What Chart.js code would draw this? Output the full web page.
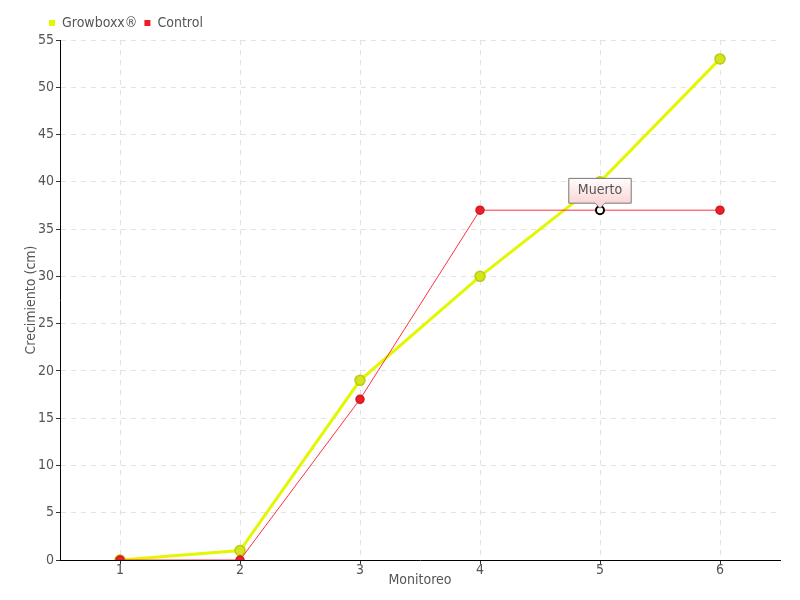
<!DOCTYPE html>
<html>
<head>
<meta charset="utf-8">
<script src="https://cdn.jsdelivr.net/npm/chart.js@4"></script>
<style>
	body { margin: 0; background: #fff; }
</style>
</head>
<body>
<canvas id="growthChart" width="800" height="600"></canvas>
<script>
"use-strict";

// Monitoring rounds and growth (cm) of each group
const monitoreos = ['1', '2', '3', '4', '5', '6'];
const growboxxValues = [0, 1, 19, 30, 40, 53];
const controlValues = [0, 0, 17, 37, 37, 37];
const deadIndex = 4;
const deadLabel = 'Muerto';
const yMin = 0;
const yMax = 55;
const yStep = 5;

const FONT = "'Liberation Sans Narrow', 'DejaVu Sans Condensed', sans-serif";
const TEXT_COLOR = '#555';
const CONTROL_LINE = '#ff3040';

const ctx = document.getElementById('growthChart').getContext('2d');

// tooltip background: white to pink
const tipGradient = ctx.createLinearGradient(0, 177, 0, 203);
tipGradient.addColorStop(0, '#ffffff');
tipGradient.addColorStop(1, '#fbd6d6');

// move the legend to the right, like the original
const legendShift = {
	id: 'legendShift',
	beforeDraw: (chart) => {
		chart.legend.left = 42;
	}
};

const chart = new Chart(ctx, {
	type: 'line',
	data: {
		labels: monitoreos,
		datasets: [{
			label: 'Growboxx®',
			data: growboxxValues,
			borderColor: '#e2f700',
			borderWidth: 3,
			backgroundColor: '#e2f700',
			pointBackgroundColor: '#d4e61a',
			pointBorderColor: '#b9cc12',
			pointBorderWidth: 1.5,
			pointRadius: 5,
			order: 1
		}, {
			label: 'Control',
			data: controlValues,
			borderColor: CONTROL_LINE,
			borderWidth: 1,
			backgroundColor: '#f01c28',
			segment: {
				borderColor: CONTROL_LINE
			},
			pointBackgroundColor: (c) => c.dataIndex === deadIndex ? '#ffffff' : '#e8202a',
			pointBorderColor: (c) => c.dataIndex === deadIndex ? '#000000' : '#d81820',
			pointBorderWidth: (c) => c.dataIndex === deadIndex ? 2 : 1.5,
			pointRadius: 4,
			order: 0
		}]
	},
	options: {
		responsive: false,
		animation: false,
		events: [],
		layout: {
			padding: { left: 0, right: 20, top: 9, bottom: 0 }
		},
		plugins: {
			legend: {
				position: 'top',
				align: 'start',
				labels: {
					boxWidth: 6,
					boxHeight: 6,
					padding: 7,
					color: TEXT_COLOR,
					font: { family: FONT, size: 14 },
					sort: (a, b) => a.datasetIndex - b.datasetIndex,
					generateLabels: (chart) => Chart.defaults.plugins.legend.labels.generateLabels(chart)
						.map(item => Object.assign(item, { lineWidth: 0 }))
				}
			},
			tooltip: {
				enabled: true,
				backgroundColor: tipGradient,
				borderColor: '#777',
				borderWidth: 1,
				cornerRadius: 0,
				caretSize: 5,
				caretPadding: 2,
				padding: { left: 9, right: 9, top: 4, bottom: 4 },
				displayColors: false,
				yAlign: 'bottom',
				xAlign: 'center',
				bodyColor: TEXT_COLOR,
				bodyFont: { family: FONT, size: 14 },
				callbacks: {
					title: () => [],
					label: () => deadLabel
				}
			}
		},
		scales: {
			x: {
				offset: true,
				title: {
					display: true,
					text: 'Monitoreo',
					color: TEXT_COLOR,
					font: { family: FONT, size: 14 },
					padding: { top: 0, bottom: 11 }
				},
				ticks: {
					color: TEXT_COLOR,
					font: { family: FONT, size: 14 },
					padding: -2
				},
				grid: {
					offset: false,
					color: '#e2e2e2',
					tickColor: '#333',
					tickLength: 4,
					tickBorderDash: []
				},
				border: { color: '#000', width: 1, dash: [5, 5] },
				afterFit: (scale) => { scale.height = 40; }
			},
			y: {
				min: yMin,
				max: yMax,
				title: {
					display: true,
					text: 'Crecimiento (cm)',
					color: TEXT_COLOR,
					font: { family: FONT, size: 14 },
					padding: { top: 23, bottom: 0 }
				},
				ticks: {
					stepSize: yStep,
					color: TEXT_COLOR,
					font: { family: FONT, size: 14 },
					padding: 2
				},
				grid: {
					color: '#e2e2e2',
					tickColor: '#333',
					tickLength: 4,
					tickBorderDash: []
				},
				border: { color: '#000', width: 1, dash: [5, 5] },
				afterFit: (scale) => { scale.width = 60; }
			}
		}
	},
	plugins: [legendShift]
});

// show the "Muerto" note on the control point
const deadPoint = chart.getDatasetMeta(1).data[deadIndex];
chart.tooltip.setActiveElements([{ datasetIndex: 1, index: deadIndex }], { x: deadPoint.x, y: deadPoint.y });
chart.update();
</script>
</body>
</html>
